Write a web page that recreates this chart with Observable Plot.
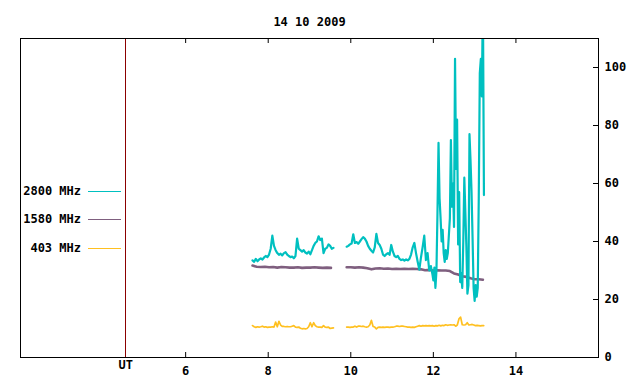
<!DOCTYPE html>
<html>
<head>
<meta charset="utf-8">
<script src="https://cdn.jsdelivr.net/npm/d3@7"></script>
<script src="https://cdn.jsdelivr.net/npm/@observablehq/plot@0.6"></script>
<style>
  html, body { margin: 0; padding: 0; background: #fff; }
</style>
</head>
<body>
<div id="chart"></div>
<script>
const title = "14 10 2009";
const xTicks = [6, 8, 10, 12, 14];
const yTicks = [0, 20, 40, 60, 80, 100];
const utHour = 4.55;
const utLabel = "UT";

const seriesNames = ["2800 MHz", "1580 MHz", "403 MHz"];
const seriesColors = ["#00c0c0", "#7f5f7f", "#ffc020"];

// 2800 MHz
const cyanStartA = 7.62, cyanStepA = 0.04;
const cyanA = [33.5,33,34,33.2,33.8,34.2,33.8,34.5,35,34.6,35.5,37.5,42,38.5,37,36,35.4,35.8,35.2,36,
  36.3,35.5,35,34.6,34.8,34.2,35,41,37.5,37,36.5,37,36.2,35.8,36.5,35.6,37,38.5,39.5,40,
  41.8,40.5,41,36,37.5,37.8,39,38.5,37.5,37.8];
const cyanStartB = 9.90, cyanStepB = 0.04;
const cyanB = [38.2,38.5,39,39.3,42.5,39.5,39.8,39.2,40,40.8,41.5,41,40,38.5,37.5,36.8,36.2,38,42.6,39.5,
  38.8,37.5,35.5,35,35.6,36,35.4,38.8,36.5,35,34.6,35,34,33.6,33.8,33.4,33.8,33.5,34,35.5,
  38,39.5,36,33,30.3,34.5,38,42,33.6,36,30,31.5,28.5];
const cyanStartC = 12.0, cyanStepC = 0.025;
const cyanC = [26.6,31,24,30,50,74,55,48,40,44,36,33,37,34,36,42,48,75,52,60,
  45,103,65,82,39,57,26,29,24,40,62,50,38,22,25,77,68,57,41,24,
  19.5,25,21,24,55,98,103,90,125,56];

// 1580 MHz
const purpleStartA = 7.62, purpleStepA = 0.1;
const purpleA = [31.7,31.3,31.2,31.3,31.1,31.2,31.0,31.2,31.1,31.0,31.0,31.1,30.9,31.0,31.0,31.1,31.0,30.9,31.0,30.9];
const purpleStartB = 9.90, purpleStepB = 0.1;
const purpleB = [31.1,31.1,31.0,31.1,31.0,30.8,30.4,30.7,30.8,30.6,30.7,30.5,30.6,30.5,30.6,30.5,30.6,30.5,30.4,30.1,
  30.2,30.0,30.1,30.0,30.0,29.8,29.0,28.6,28.0,27.8,27.3,27.0,27.0,26.8];

// 403 MHz
const orangeStartA = 7.62, orangeStepA = 0.04;
const orangeA = [11.0,10.6,10.4,10.6,10.5,10.6,10.8,10.5,10.6,10.4,10.5,10.5,10.6,10.5,12.2,10.6,12.5,11.2,10.7,10.7,
  10.6,10.7,10.6,10.6,10.8,11.0,10.5,10.4,10.5,10.1,9.9,10.0,9.9,10.0,10.6,12.0,10.6,12.0,11.0,10.6,
  10.5,10.5,10.4,11.0,10.5,10.4,10.5,10.0,10.1,10.2];
const orangeStartB = 9.90, orangeStepB = 0.04;
const orangeB = [10.5,10.5,10.4,10.5,10.5,10.8,10.5,10.8,10.8,10.7,10.8,10.6,10.5,10.6,11.2,12.8,10.7,10.5,9.9,10.4,
  10.5,10.4,10.5,10.4,10.5,10.5,10.4,10.5,10.5,10.6,10.8,10.8,10.7,10.8,10.8,10.7,10.6,10.5,10.5,10.4,
  10.5,10.4,10.6,10.8,11.0,10.8,11.0,10.9,11.0,10.9,11.0,10.9,11.0,10.8,11.0,10.9,11.1,10.9,11.1,11.0,
  11.3,11.1,11.2,11.3,11.2,11.3,10.8,11.2,13.3,13.9,11.3,11.2,11.3,12.0,11.2,11.3,11.4,11.2,11.0,11.1,
  11.0,10.9,11.0,11.0];

function seg(start, step, values) {
  return values.map((v, i) => ({t: start + i * step, v}));
}
function gapAfter(rows) {
  const last = rows[rows.length - 1];
  return [...rows, {t: last.t + 0.01, v: NaN}];
}

const cyanData = [...gapAfter(seg(cyanStartA, cyanStepA, cyanA)), ...seg(cyanStartB, cyanStepB, cyanB), ...seg(cyanStartC, cyanStepC, cyanC)];
const purpleData = [...gapAfter(seg(purpleStartA, purpleStepA, purpleA)), ...seg(purpleStartB, purpleStepB, purpleB)];
const orangeData = [...gapAfter(seg(orangeStartA, orangeStepA, orangeA)), ...seg(orangeStartB, orangeStepB, orangeB)];

const W = 640, H = 384, mL = 20, mR = 42, mT = 38, mB = 27;
const fw = W - mL - mR, fh = H - mT - mB;
const font = "'DejaVu Sans Mono', monospace";

const svg = Plot.plot({
  width: W, height: H,
  marginLeft: mL, marginRight: mR, marginTop: mT, marginBottom: mB,
  x: {domain: [2, 16]},
  y: {domain: [0, 110]},
  style: {fontFamily: font, fontSize: "12px", fontWeight: "bold", color: "black", background: "white"},
  marks: [
    Plot.ruleX([utHour], {x: d => d, stroke: "#8b0000", strokeWidth: 1, shapeRendering: "crispEdges"}),
    Plot.line(orangeData, {x: "t", y: "v", stroke: seriesColors[2], strokeWidth: 1.7, clip: true}),
    Plot.line(purpleData, {x: "t", y: "v", stroke: seriesColors[1], strokeWidth: 2.6, clip: true}),
    Plot.line(cyanData, {x: "t", y: "v", stroke: seriesColors[0], strokeWidth: 2.2, clip: true}),
    Plot.frame({stroke: "black", strokeWidth: 1, shapeRendering: "crispEdges"}),
    Plot.tickX(xTicks, {x: d => d, insetTop: fh - 5, stroke: "black"}),
    Plot.tickX(xTicks, {x: d => d, insetBottom: fh - 5, stroke: "black"}),
    Plot.tickY(yTicks, {y: d => d, insetLeft: fw - 5, stroke: "black"}),
    Plot.axisX({ticks: xTicks, tickSize: 0, tickPadding: 9, label: null, tickFormat: d => String(d)}),
    Plot.axisY({ticks: yTicks, anchor: "right", tickSize: 0, tickPadding: 6, label: null, tickFormat: d => String(d)}),
    Plot.text([utLabel], {x: utHour, text: d => d, frameAnchor: "bottom", dy: 11}),
    Plot.text([title], {text: d => d, frameAnchor: "top", dy: -21})
  ]
});

const legendY = [191, 219, 248];
const lg = d3.select(svg).append("g")
  .attr("font-family", font)
  .attr("font-size", 12).attr("font-weight", "bold");
seriesNames.forEach((name, i) => {
  lg.append("text").attr("x", 81).attr("y", legendY[i]).attr("dy", "0.35em")
    .attr("text-anchor", "end").attr("fill", "black").text(name);
  lg.append("line").attr("x1", 88).attr("x2", 121).attr("y1", legendY[i] + 0.5).attr("y2", legendY[i] + 0.5)
    .attr("stroke", seriesColors[i]).attr("stroke-width", 1);
});

document.getElementById("chart").appendChild(svg);
</script>
</body>
</html>
